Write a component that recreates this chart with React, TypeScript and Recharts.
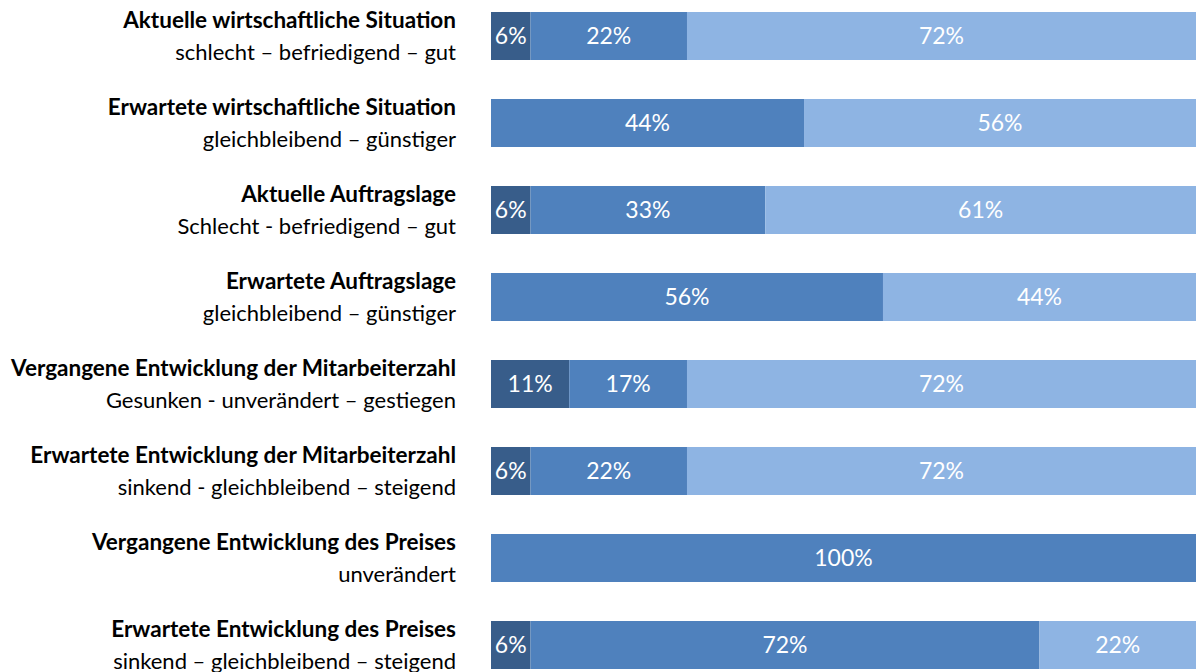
import { BarChart, Bar, XAxis, YAxis, LabelList } from "recharts";

const TITLES = [
  "Aktuelle wirtschaftliche Situation",
  "Erwartete wirtschaftliche Situation",
  "Aktuelle Auftragslage",
  "Erwartete Auftragslage",
  "Vergangene Entwicklung der Mitarbeiterzahl",
  "Erwartete Entwicklung der Mitarbeiterzahl",
  "Vergangene Entwicklung des Preises",
  "Erwartete Entwicklung des Preises",
];

const SUBTITLES = [
  "schlecht – befriedigend – gut",
  "gleichbleibend – günstiger",
  "Schlecht - befriedigend – gut",
  "gleichbleibend – günstiger",
  "Gesunken - unverändert – gestiegen",
  "sinkend - gleichbleibend – steigend",
  "unverändert",
  "sinkend – gleichbleibend – steigend",
];

const LOW = [5.6, 0, 5.6, 0, 11.1, 5.6, 0, 5.6];
const MID = [22.2, 44.4, 33.3, 55.6, 16.7, 22.2, 100, 72.2];
const HIGH = [72.2, 55.6, 61.1, 44.4, 72.2, 72.2, 0, 22.2];

const data = TITLES.map((title, i) => ({
  title,
  sub: SUBTITLES[i],
  low: LOW[i],
  mid: MID[i],
  high: HIGH[i],
}));

const FONT = "Lato, 'Open Sans', sans-serif";

const pct = (v: any) => (v ? `${Math.round(Number(v))}%` : "");

function CategoryTick(props: any) {
  const { y, payload } = props;
  const row = data[payload.index];
  return (
    <g>
      <text x={456} y={y - 8} textAnchor="end" fontFamily={FONT} fontSize={22.5} fontWeight={700} fill="#000">
        {row.title}
      </text>
      <text x={456} y={y + 24} textAnchor="end" fontFamily={FONT} fontSize={22} fill="#000">
        {row.sub}
      </text>
    </g>
  );
}

const labelStyle = { fill: "#fff", fontSize: 23, fontFamily: FONT };

export default function App() {
  return (
    <div style={{ position: "fixed", left: 0, top: 0, width: 1196, height: 672, overflow: "hidden", background: "#fff" }}>
      <div style={{ position: "absolute", left: 0, top: -8 }}>
        <BarChart width={1196} height={696} data={data} layout="vertical" margin={{ top: 0, right: 0, bottom: 0, left: 0 }}>
          <XAxis type="number" domain={[0, 100]} hide />
          <YAxis
            type="category"
            dataKey="title"
            width={491}
            axisLine={false}
            tickLine={false}
            tick={<CategoryTick />}
            interval={0}
          />
          <Bar dataKey="low" stackId="a" fill="#385D8A" barSize={48} isAnimationActive={false}>
            <LabelList dataKey="low" position="center" formatter={pct} style={labelStyle} />
          </Bar>
          <Bar dataKey="mid" stackId="a" fill="#4F81BD" barSize={48} isAnimationActive={false}>
            <LabelList dataKey="mid" position="center" formatter={pct} style={labelStyle} />
          </Bar>
          <Bar dataKey="high" stackId="a" fill="#8EB4E3" barSize={48} isAnimationActive={false}>
            <LabelList dataKey="high" position="center" formatter={pct} style={labelStyle} />
          </Bar>
        </BarChart>
      </div>
    </div>
  );
}
